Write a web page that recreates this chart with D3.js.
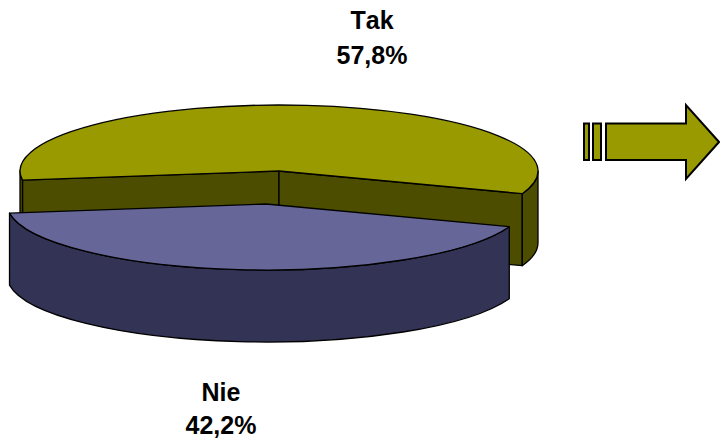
<!DOCTYPE html>
<html>
<head>
<meta charset="utf-8">
<script src="https://cdnjs.cloudflare.com/ajax/libs/d3/7.8.5/d3.min.js"></script>
<style>
  html, body { margin: 0; padding: 0; background: #fff; }
  text { font-family: "Liberation Sans", Arial, sans-serif; font-weight: bold; font-size: 25px; font-kerning: none; fill: #000; text-anchor: middle; }
</style>
</head>
<body>
<svg id="chart" width="720" height="439"></svg>
<script>
const categories = ["Tak", "Nie"]
const shares = [57.8, 42.2]
const shareLabels = ["57,8%", "42,2%"]
const topColors = ["#999900", "#666699"]
const sideColors = ["#4d4d00", "#333355"]

const rx = 259
const ry = 66
const depth = 72
const cx = 279
const cy = 171
// the Nie slice is pulled out of the pie
const offsets = [[0, 0], [-13, 33]]
const labelPos = [[372, 29], [221, 401]]
const labelGap = [35, 33]

const svg = d3.select("#chart")
const rad = d => d * Math.PI / 180
const startDeg = -98

const slices = d3.pie().sort(null).startAngle(rad(startDeg)).endAngle(rad(startDeg + 360))(shares)

const ex = t => rx * Math.sin(t)
const ey = t => -ry * Math.cos(t)

// one stretch of the rim, top edge then bottom edge
function rimPath(a, b) {
  const sweep = b > a ? 1 : 0
  return "M" + ex(a) + "," + ey(a) +
    "A" + rx + "," + ry + " 0 0 " + sweep + " " + ex(b) + "," + ey(b) +
    "L" + ex(b) + "," + (ey(b) + depth) +
    "A" + rx + "," + ry + " 0 0 " + (1 - sweep) + " " + ex(a) + "," + (ey(a) + depth) + "Z"
}

function radialFace(t) {
  return "M0,0L" + ex(t) + "," + ey(t) + "L" + ex(t) + "," + (ey(t) + depth) + "L0," + depth + "Z"
}

const arc = d3.arc().innerRadius(0).outerRadius(rx)

slices.forEach((s, i) => {
  const g = svg.append("g")
    .attr("transform", "translate(" + (cx + offsets[i][0]) + "," + (cy + offsets[i][1]) + ")")
    .attr("stroke", "#000")
    .attr("stroke-width", 1.3)
    .attr("stroke-linejoin", "round")

  // cut faces only show on the slice that stays behind
  if (i === 0) {
    g.append("path").attr("d", radialFace(s.startAngle)).attr("fill", sideColors[i])
    g.append("path").attr("d", radialFace(s.endAngle)).attr("fill", sideColors[i])
  }

  // visible rim = the part of the slice on the front half of the ellipse
  const spans = i === 0
    ? [[s.startAngle, rad(-90)], [rad(90), s.endAngle]]
    : [[s.startAngle, s.endAngle]]
  spans.forEach(sp => {
    g.append("path").attr("d", rimPath(sp[0], sp[1])).attr("fill", sideColors[i])
  })

  g.append("path")
    .attr("d", arc(s))
    .attr("transform", "scale(1," + (ry / rx) + ")")
    .attr("vector-effect", "non-scaling-stroke")
    .attr("fill", topColors[i])
})

// labels
categories.forEach((c, i) => {
  const t = svg.append("text").attr("x", labelPos[i][0]).attr("y", labelPos[i][1])
  t.append("tspan").attr("x", labelPos[i][0]).text(c)
  t.append("tspan").attr("x", labelPos[i][0]).attr("dy", labelGap[i]).text(shareLabels[i])
})

// striped arrow on the right
const arrowTop = 123.5
const arrowBottom = 160
const arrow = svg.append("g").attr("fill", "#999900").attr("stroke", "#000").attr("stroke-width", 2)
arrow.append("rect").attr("x", 584).attr("y", arrowTop).attr("width", 5).attr("height", arrowBottom - arrowTop)
arrow.append("rect").attr("x", 593).attr("y", arrowTop).attr("width", 8).attr("height", arrowBottom - arrowTop)
arrow.append("path").attr("d", d3.line()([
  [606, arrowTop], [686, arrowTop], [686, 105], [719, 142], [686, 179], [686, arrowBottom], [606, arrowBottom]
]) + "Z")
</script>
</body>
</html>
